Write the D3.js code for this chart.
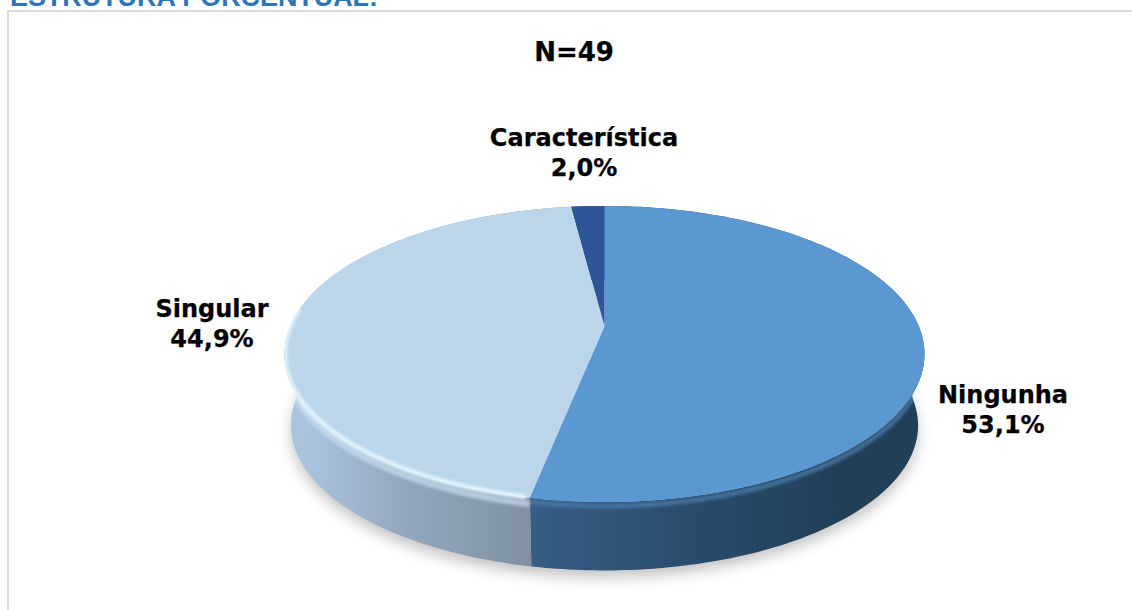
<!DOCTYPE html>
<html>
<head>
<meta charset="utf-8">
<script src="https://cdn.jsdelivr.net/npm/d3@7"></script>
<style>
  html, body { margin: 0; padding: 0; background: #fff; overflow: hidden; }
  svg { display: block; }
  .lbl { font-family: "DejaVu Sans", sans-serif; font-weight: 700; font-size: 24px; fill: #000; stroke: #000; stroke-width: 0.25px; text-anchor: middle; }
</style>
</head>
<body>
<svg id="chart" width="1132" height="610"></svg>
<script>
const categories = ['Ningunha', 'Singular', 'Característica'];
const shares = [53.1, 44.9, 2.0];
const shareLabels = ['53,1%', '44,9%', '2,0%'];

const topColors = ['#5b98d2', '#bbd5ea', '#2d5597'];
const wallStops = [
    [[0, '#365e84'], [0.45, '#294b6b'], [0.8, '#223f58'], [1, '#223f58']],
    [[0, '#7f91a3'], [0.6, '#94a9bf'], [1, '#aac3dd']],
    [[0, '#223f58'], [1, '#223f58']]
];

const labelPos = [[1003, 403], [212, 317], [584, 146]];

const svg = d3.select('#chart');
const defs = svg.append('defs');

// pie seen in perspective: the centre of the disc sits above the centre of the ellipse
const pivot = { x: 604.5, y: 326 };
const persp = 0.189;
const discX = 314.2, discY = 142.7;
const depth = 72, bottomShrink = 0.98;

function project(a, level) {
    let u = Math.sin(a), v = Math.cos(a);
    let w = 1 + persp * v;
    let s = level ? bottomShrink : 1;
    return [pivot.x + s * discX * u / w, pivot.y - s * discY * v / w + (level ? depth : 0)];
}

const line = d3.line();

function arcPoints(a0, a1, level) {
    let n = Math.max(2, Math.ceil(Math.abs(a1 - a0) * 60));
    return d3.range(n + 1).map(i => project(a0 + (a1 - a0) * i / n, level));
}

const pie = d3.pie().sort(null).value(d => d)(shares);

// title strip, cut by the top of the frame
svg.append('text')
    .attr('x', 10).attr('y', 6)
    .style('font-family', '"Liberation Sans", Arial, sans-serif')
    .style('font-weight', 700).style('font-size', '26.9px')
    .attr('fill', '#2e75b6')
    .text('ESTRUTURA PORCENTUAL:');

svg.append('path')
    .attr('d', 'M8,610V11H1132')
    .attr('fill', 'none').attr('stroke', '#d9d9d9').attr('stroke-width', 2);

svg.append('text').attr('class', 'lbl').style('font-size', '26px').attr('x', 574).attr('y', 61).text('N=49');

// filters
defs.append('filter').attr('id', 'shadowBlur')
    .attr('x', '-10%').attr('y', '-10%').attr('width', '120%').attr('height', '120%')
    .append('feGaussianBlur').attr('stdDeviation', 7);
defs.append('filter').attr('id', 'rimBlur')
    .attr('x', '-5%').attr('y', '-5%').attr('width', '110%').attr('height', '110%')
    .append('feGaussianBlur').attr('stdDeviation', 1.6);

// everything of the bevel stays inside the pie outline
let outline = defs.append('clipPath').attr('id', 'pieClip');
outline.append('path').attr('d', line(arcPoints(0, Math.PI * 2, 0)) + 'Z');
outline.append('path').attr('d',
    line(arcPoints(Math.PI / 2, Math.PI * 1.5, 0).concat(arcPoints(Math.PI * 1.5, Math.PI / 2, 1))) + 'Z');

// shadow under the pie
svg.append('path')
    .attr('d', line(arcPoints(Math.PI * 0.42, Math.PI * 1.58, 1).map(p => [p[0], p[1] + 7])) + 'Z')
    .attr('fill', '#8a8a8a').attr('opacity', 0.5)
    .attr('filter', 'url(#shadowBlur)');

// side walls
pie.forEach((d, i) => {
    let gx = [project(d.endAngle, 0)[0], project(Math.PI / 2, 0)[0] - 5];
    if (i === 1) gx = [project(d.startAngle, 0)[0], project(Math.PI * 1.5 + 0.2, 0)[0]];
    let g = defs.append('linearGradient').attr('id', 'wall' + i)
        .attr('gradientUnits', 'userSpaceOnUse')
        .attr('x1', gx[0]).attr('x2', gx[1]).attr('y1', 0).attr('y2', 0);
    wallStops[i].forEach(s => g.append('stop').attr('offset', s[0]).attr('stop-color', s[1]));

    let pts = arcPoints(d.startAngle, d.endAngle, 0).concat(arcPoints(d.endAngle, d.startAngle, 1));
    svg.append('path').attr('d', line(pts) + 'Z').attr('fill', `url(#wall${i})`);
});

// soft band under the front edge, where the bevel turns into the wall
let edgeBlue = pie[0], edgeLight = pie[1];
let bevel = svg.append('g').attr('clip-path', 'url(#pieClip)');
bevel.append('path')
    .attr('d', line(arcPoints(Math.PI / 2 + 0.25, edgeBlue.endAngle, 0).map(p => [p[0], p[1] + 4])))
    .attr('fill', 'none').attr('stroke', '#4a7ca9').attr('stroke-width', 5).attr('opacity', 0.8)
    .attr('filter', 'url(#rimBlur)');
bevel.append('path')
    .attr('d', line(arcPoints(edgeLight.startAngle, Math.PI * 1.5, 0).map(p => [p[0], p[1] + 6])))
    .attr('fill', 'none').attr('stroke', '#c6dbee').attr('stroke-width', 6).attr('opacity', 0.75)
    .attr('filter', 'url(#rimBlur)');

// top face
pie.forEach((d, i) => {
    let pts = [[pivot.x, pivot.y]].concat(arcPoints(d.startAngle, d.endAngle, 0));
    svg.append('path').attr('d', line(pts) + 'Z')
        .attr('fill', topColors[i]);
});

// bright bevel along the front of the light slice
let bevelTop = svg.append('g').attr('clip-path', 'url(#pieClip)');
bevelTop.append('path')
    .attr('d', line(arcPoints(edgeLight.startAngle + 0.01, Math.PI * 1.5 + 0.12, 0).map(p => [p[0], p[1] - 0.5])))
    .attr('fill', 'none').attr('stroke', '#e4f4ff').attr('stroke-width', 5)
    .attr('filter', 'url(#rimBlur)');

// labels
categories.forEach((c, i) => {
    svg.append('text').attr('class', 'lbl').attr('x', labelPos[i][0]).attr('y', labelPos[i][1]).text(c);
    svg.append('text').attr('class', 'lbl').attr('x', labelPos[i][0]).attr('y', labelPos[i][1] + 30).text(shareLabels[i]);
});
</script>
</body>
</html>
